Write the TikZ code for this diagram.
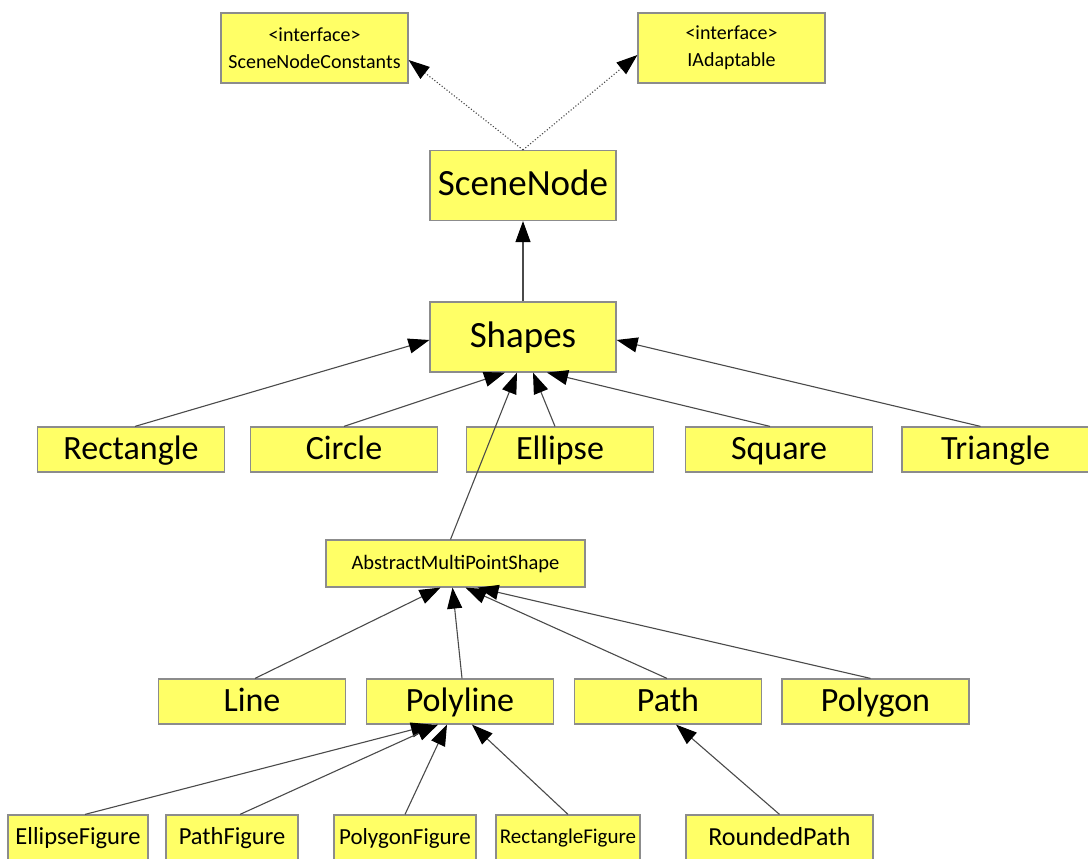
\documentclass[tikz,border=0pt]{standalone}
\usepackage{fontspec}
\setmainfont{Carlito}
\usetikzlibrary{arrows.meta}
\definecolor{boxfill}{HTML}{FFFF66}
\definecolor{boxline}{HTML}{8C8C8C}
\definecolor{edgeline}{HTML}{4A4A4A}
% class name set in a box of fixed height and depth, so every label sits at the same level
\newcommand\lbl[1]{\raisebox{0pt}[0.72em][0.16em]{#1}}
\begin{document}
\begin{tikzpicture}[x=1pt,y=-1pt,
  cls/.style={draw=boxline, line width=1.2pt, fill=boxfill, inner sep=0pt, align=center, text=black},
  big/.style={cls, minimum width=186pt, minimum height=70pt, font=\fontsize{37}{40}\selectfont},
  mid/.style={cls, minimum width=187pt, minimum height=45pt, font=\fontsize{34}{36}\selectfont},
  small/.style={cls, minimum height=46pt, font=\fontsize{23}{26}\selectfont},
  iface/.style={cls, minimum width=187pt, minimum height=70pt, font=\fontsize{20}{27}\selectfont},
  inherit/.style={draw=edgeline, line width=1.1pt, -{Triangle[length=21pt,width=15pt,color=black,fill=black]}},
  realize/.style={inherit, dotted}
]
\path[use as bounding box, fill=white] (0,0) rectangle (1088,859);

% interfaces
\node[iface] (snc) at (314.5,48) {\textless interface\textgreater\\SceneNodeConstants};
\node[iface] (iad) at (731.5,48) {\textless interface\textgreater\\IAdaptable};

% base classes
\node[big] (scn) at (523,185.5) {\lbl{SceneNode}};
\node[big] (shp) at (523,337) {\lbl{Shapes}};

% simple shapes
\node[mid] (rect) at (131,449.5) {\lbl{Rectangle}};
\node[mid] (circ) at (344,449.5) {\lbl{Circle}};
\node[mid] (ell)  at (560,449.5) {\lbl{Ellipse}};
\node[mid] (sq)   at (779,449.5) {\lbl{Square}};
\node[mid] (tri)  at (995.5,449.5) {\lbl{Triangle}};

% multi-point shapes
\node[small, minimum width=259pt, minimum height=47pt, font=\fontsize{20.5}{24}\selectfont] (amps) at (455.5,563.5) {\lbl{AbstractMultiPointShape}};
\node[mid] (line) at (252,701.5) {\lbl{Line}};
\node[mid] (poly) at (460,701.5) {\lbl{Polyline}};
\node[mid] (path) at (668,701.5) {\lbl{Path}};
\node[mid] (pgon) at (875.5,701.5) {\lbl{Polygon}};

% figures
\node[small, minimum width=140pt, font=\fontsize{24.5}{26}\selectfont] (ef)  at (78,838) {\lbl{EllipseFigure}};
\node[small, minimum width=132pt, font=\fontsize{24.5}{26}\selectfont] (pf)  at (232,838) {\lbl{PathFigure}};
\node[small, minimum width=142pt, font=\fontsize{23}{26}\selectfont] (pgf) at (405,838) {\lbl{PolygonFigure}};
\node[small, minimum width=144pt, font=\fontsize{21}{26}\selectfont] (rf)  at (568,838) {\lbl{RectangleFigure}};
\node[small, minimum width=187pt, font=\fontsize{26}{28}\selectfont] (rp)  at (779.5,838) {\lbl{RoundedPath}};

% realizations
\draw[realize] (scn.north) -- ([yshift=-12pt]snc.east);
\draw[realize] (scn.north) -- ([yshift=-7pt]iad.west);

% generalizations
\draw[inherit] (shp.north) -- (scn.south);
\draw[inherit] ([xshift=4pt]rect.north) -- ([yshift=-3pt]shp.west);
\draw[inherit] (circ.north) -- ([xshift=-18pt]shp.south);
\draw[inherit] ([xshift=-5pt]ell.north) -- ([xshift=10pt]shp.south);
\draw[inherit] ([xshift=-9pt]sq.north) -- ([xshift=24pt]shp.south);
\draw[inherit] ([xshift=-15pt]tri.north) -- ([yshift=-3pt]shp.east);
\draw[inherit] ([xshift=-5pt]amps.north) -- ([xshift=-6pt]shp.south);

\draw[inherit] ([xshift=3pt]line.north) -- ([xshift=-15pt]amps.south);
\draw[inherit] ([xshift=2pt]poly.north) -- ([xshift=-3pt]amps.south);
\draw[inherit] ([xshift=-1pt]path.north) -- ([xshift=10pt]amps.south);
\draw[inherit] ([xshift=-5pt]pgon.north) -- ([xshift=22pt]amps.south);

\draw[inherit] ([xshift=7pt]ef.north) -- ([xshift=-28pt]poly.south);
\draw[inherit] ([xshift=8pt]pf.north) -- ([xshift=-22pt]poly.south);
\draw[inherit] (pgf.north) -- ([xshift=-13pt]poly.south);
\draw[inherit] (rf.north) -- ([xshift=12pt]poly.south);
\draw[inherit] (rp.north) -- ([xshift=8pt]path.south);
\end{tikzpicture}
\end{document}
